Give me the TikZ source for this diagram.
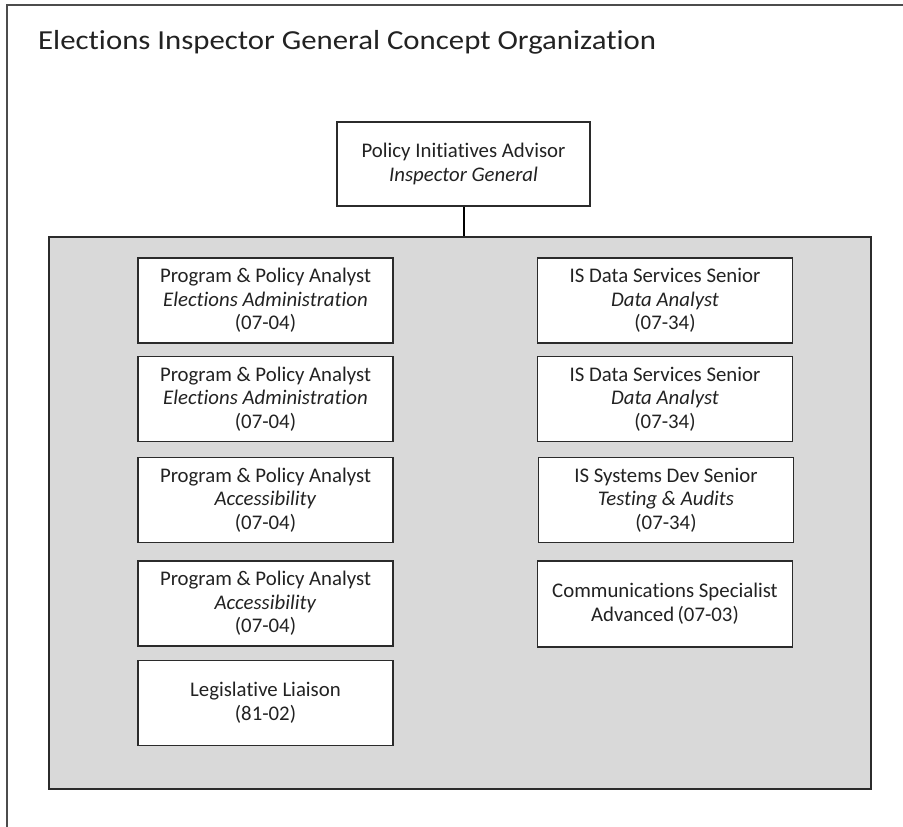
\documentclass[tikz,border=0pt]{standalone}
\usepackage{fontspec}
\setmainfont{Carlito}[Ligatures=NoCommon]
\newfontfamily\titlefont{Carlito}[Ligatures=NoCommon, FakeStretch=1.12]
\definecolor{linec}{HTML}{2B2B2B}
\definecolor{panelc}{HTML}{D9D9D9}
\definecolor{textc}{HTML}{222222}
\tikzset{
  posbox/.style={draw=linec, line width=1.6pt, fill=white, inner sep=0pt,
    minimum width=255pt, minimum height=85pt, align=center, text=textc,
    font=\fontsize{20.8}{23.7}\selectfont},
  panelbox/.style={draw=linec, line width=1.6pt, fill=panelc, inner sep=0pt},
  frameline/.style={draw=black!70, line width=1.4pt},
  conn/.style={draw=black, line width=2pt}
}
\begin{document}
\begin{tikzpicture}[x=1pt,y=-1pt]
\useasboundingbox[fill=white] (0,0) rectangle (903,827);
% outer frame (only top and left edges visible)
\coordinate (ftl) at (7,5);
\coordinate (ftr) at (903,5);
\coordinate (fbl) at (7,827);
\draw[frameline] (fbl) -- (ftl) -- (ftr);
% title
\node[anchor=base west, inner sep=0pt, text=textc, font=\titlefont\fontsize{27.5}{32}\selectfont] (title) at (38,49.5) {Elections Inspector General Concept Organization};
% panel
\node[panelbox, minimum width=822pt, minimum height=552pt] (panel) at (460,513) {};
% top box
\node[posbox, minimum width=253pt, minimum height=84pt] (top) at (463.5,164) {Policy Initiatives Advisor\\\textit{Inspector General}};
\draw[conn] (top.south) -- (top.south |- panel.north);
% left column
\node[posbox] (l1) at (265.5,300.5) {Program \& Policy Analyst\\\textit{Elections Administration}\\(07-04)};
\node[posbox] (l2) at (265.5,399) {Program \& Policy Analyst\\\textit{Elections Administration}\\(07-04)};
\node[posbox] (l3) at (265.5,500) {Program \& Policy Analyst\\\textit{Accessibility}\\(07-04)};
\node[posbox] (l4) at (265.5,603.5) {Program \& Policy Analyst\\\textit{Accessibility}\\(07-04)};
\node[posbox] (l5) at (265.5,703) {Legislative Liaison\\(81-02)};
% right column
\node[posbox] (r1) at (665,300.5) {IS Data Services Senior\\\textit{Data Analyst}\\(07-34)};
\node[posbox] (r2) at (665,399) {IS Data Services Senior\\\textit{Data Analyst}\\(07-34)};
\node[posbox] (r3) at (666,500) {IS Systems Dev Senior\\\textit{Testing \& Audits}\\(07-34)};
\node[posbox, minimum height=86pt] (r4) at (665,604) {Communications Specialist\\Advanced\,(07-03)};
\end{tikzpicture}
\end{document}
